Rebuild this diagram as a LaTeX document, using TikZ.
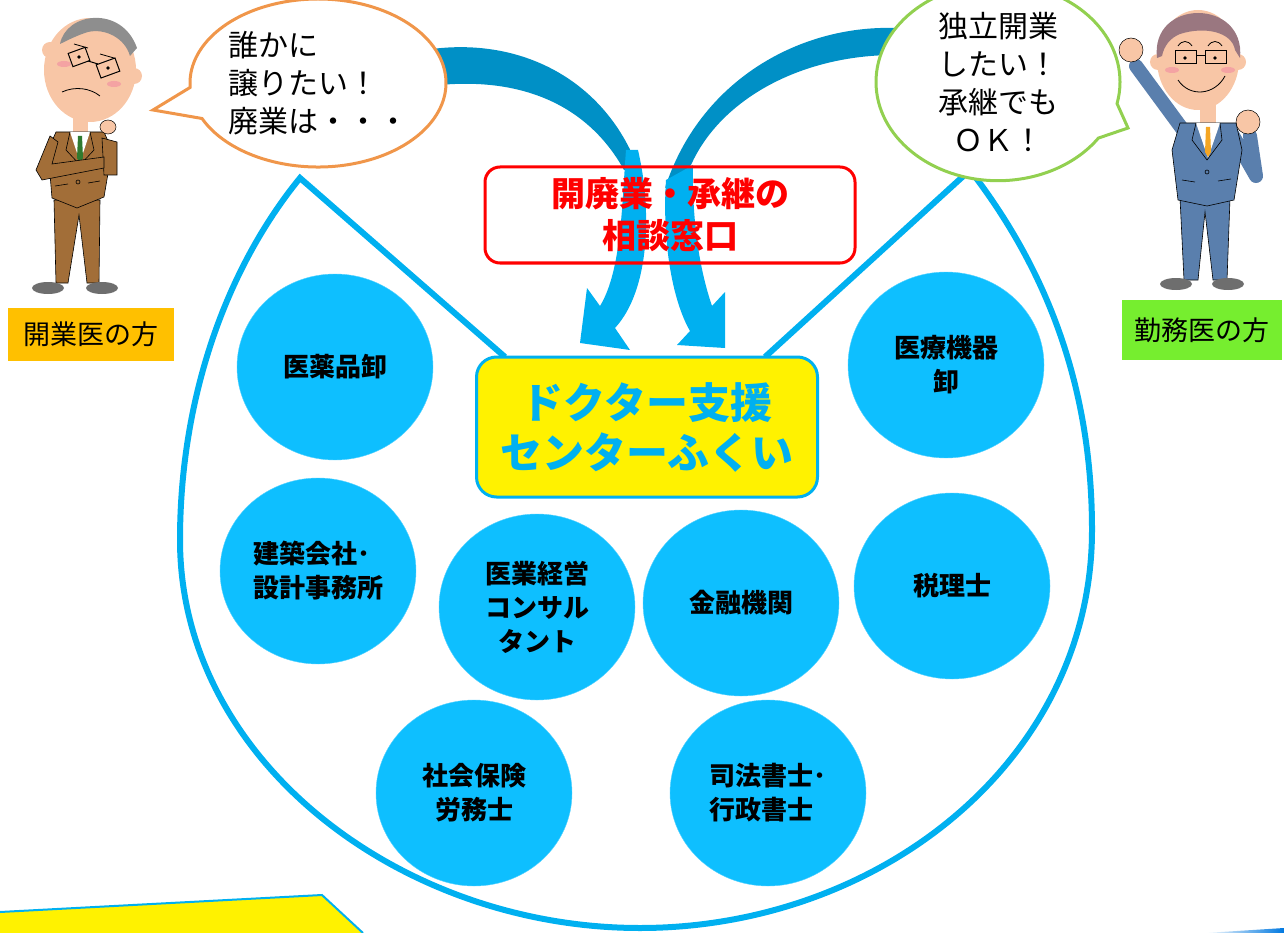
\documentclass[tikz,border=0pt]{standalone}
\usepackage{fontspec}
\setmainfont{Noto Sans CJK JP}
\usetikzlibrary{shapes.geometric}
\usetikzlibrary{shapes.callouts}
\usetikzlibrary{positioning}
\definecolor{sky}{HTML}{00B0F0}
\definecolor{darksky}{HTML}{0090C6}
\definecolor{ball}{HTML}{0EBFFF}
\definecolor{bubbleorange}{HTML}{F0964A}
\definecolor{bubblegreen}{HTML}{92D050}
\definecolor{taborange}{HTML}{FFC000}
\definecolor{tabgreen}{HTML}{76EE2F}
\definecolor{skin}{HTML}{F8C6A6}
\definecolor{blush}{HTML}{F4A3A3}
\definecolor{hairgrey}{HTML}{8E8E8E}
\definecolor{hairmauve}{HTML}{9A7780}
\definecolor{suitbrown}{HTML}{A26E38}
\definecolor{suitblue}{HTML}{5A7FAD}
\definecolor{tiegreen}{HTML}{2F7A2F}
\definecolor{tieorange}{HTML}{F5A623}
\definecolor{shoe}{HTML}{6E6E6E}
\definecolor{deepblue}{HTML}{0078E0}

\begin{document}
\begin{tikzpicture}[x=1pt,y=-1pt,
member/.style={
ellipse,
fill=ball,
draw=ball!70!white,
inner sep=0pt,
minimum width=196pt,
minimum height=186pt,
font=\fontsize{26}{34}\selectfont\bfseries},
bubble/.style={
ellipse callout,
fill=white,
line width=3pt,
inner sep=0pt,
callout pointer arc=22,
font=\fontsize{30}{38}\selectfont},
tab/.style={
inner sep=0pt,
font=\fontsize{27}{30}\selectfont},
cloth/.style={draw=black, line width=0.6pt},
sleeve/.style={line width=14pt, line cap=round, line join=round}
]
\useasboundingbox (0,0) rectangle (1284,933);

% outer frame
\coordinate (lpeak) at (300,178);
\coordinate (rpeak) at (970,170);
\coordinate (lfoot) at (505,357);
\coordinate (rfoot) at (765,357);
\draw[sky, line width=6pt, line join=miter] (lfoot) -- (lpeak)
  .. controls (225,270) and (180,400) .. (180,540)
  .. controls (180,760) and (400,928) .. (640,928)
  .. controls (880,928) and (1092,760) .. (1092,530)
  .. controls (1092,400) and (1055,280) .. (rpeak) -- (rfoot);

% twisted arrows
\fill[darksky] (425,50) .. controls (520,35) and (605,80) .. (638,168)
  -- (624,170) .. controls (592,112) and (530,74) .. (430,86) -- cycle;
\fill[sky] (626,150) .. controls (622,200) and (622,270) .. (600,306)
  -- (587,288) -- (580,343) -- (630,350) -- (615,328)
  .. controls (650,290) and (652,210) .. (638,150) -- cycle;
\fill[darksky] (895,28) .. controls (800,25) and (700,80) .. (665,188)
  -- (691,165) .. controls (720,100) and (800,55) .. (895,55) -- cycle;
\fill[sky] (666,180) .. controls (662,240) and (672,300) .. (690,331)
  -- (677,345) -- (725,348) -- (725,292) -- (712,306)
  .. controls (698,265) and (692,215) .. (693,165) -- cycle;

% counter and centre
\node[draw=red, line width=3pt, rounded corners=15pt, minimum width=370pt,
  minimum height=96pt, align=center, text=red,
  font=\fontsize{34}{42}\selectfont\bfseries] (desk) at (670,215)
  {開廃業・承継の\\相談窓口};
\node[draw=sky, fill=yellow, line width=3pt, rounded corners=20pt,
  minimum width=341pt, minimum height=140pt, align=center, text=sky,
  font=\fontsize{42}{50}\selectfont\bfseries] (ctr) at (647,427)
  {ドクター支援\\センターふくい};

% partners
\foreach \n/\x/\y/\al/\txt in {
  wholesale/335/367/center/{医薬品卸},
  devices/946/365/center/{医療機器\\卸},
  builder/318/571/left/{建築会社･\\設計事務所},
  consult/537/607/center/{医業経営\\コンサル\\タント},
  bank/741/603/center/{金融機関},
  tax/952/586/center/{税理士},
  labour/474/793/center/{社会保険\\労務士},
  scrivener/768/793/left/{司法書士･\\行政書士}}
  \node[member, align=\al] (\n) at (\x,\y) {\txt};

% speech bubbles
\node[bubble, draw=bubbleorange, minimum width=256pt, minimum height=168pt,
  callout absolute pointer={(153,110)}, align=left] (sayl) at (318,83)
  {誰かに\\譲りたい！\\廃業は・・・};
\node[bubble, draw=bubblegreen, minimum width=244pt, minimum height=170pt,
  callout absolute pointer={(1128,128)}, align=center] (sayr) at (998,82)
  {独立開業\\したい！\\承継でも\\ＯＫ！};

% owner, left
\fill[suitbrown, cloth] (54,200) -- (100,200) -- (99,283) -- (87,283)
  -- (79,215) -- (68,283) -- (56,283) -- cycle;
\fill[shoe] (48,288) ellipse [x radius=16, y radius=6];
\fill[shoe] (102,288) ellipse [x radius=16, y radius=6];
\fill[skin] (73,112) rectangle (88,135);
\fill[suitbrown, cloth] (56,132) -- (104,132) -- (112,150) -- (104,197)
  -- (77,208) -- (52,198) -- (48,150) -- cycle;
\fill[white] (70,132) -- (90,132) -- (80,162) -- cycle;
\fill[tiegreen] (78,136) -- (82,136) -- (83,158) -- (80,163) -- (77,158) -- cycle;
\draw[line width=0.6pt] (70,132) -- (66,150) -- (80,165) -- (94,150) -- (90,132);
\draw[line width=0.6pt] (78,182) circle (2);
\draw[line width=0.6pt] (55,186) -- (68,184) (88,183) -- (100,181);
\fill[suitbrown, cloth] (102,138) -- (117,142) -- (117,175) -- (104,175) -- cycle;
\fill[suitbrown, cloth] (50,136) -- (36,170) -- (42,180) -- (104,168)
  -- (104,157) -- (52,164) -- (58,142) -- cycle;
\fill[skin] (90,70) ellipse [x radius=46, y radius=52];
\fill[skin] (50,50) circle (8);
\fill[skin] (134,76) circle (8);
\fill[hairgrey] (60,44) .. controls (66,12) and (122,5) .. (137,48)
  -- (130,56) .. controls (125,38) and (105,28) .. (88,32)
  .. controls (78,35) and (68,40) .. (60,44) -- cycle;
\fill[blush] (64,64) ellipse [x radius=7, y radius=3];
\fill[blush] (114,84) ellipse [x radius=7, y radius=3];
\draw[line width=1pt, rotate around={20:(79,57)}] (70,50) rectangle (88,64);
\draw[line width=1pt, rotate around={20:(108,68)}] (98,61) rectangle (118,75);
\draw[line width=1pt] (88,61) -- (98,64);
\fill (79,57) circle (1.8);
\fill (108,68) circle (1.8);
\draw[line width=0.8pt] (62,92) .. controls (75,86) and (90,88) .. (100,96);
\draw[line width=0.8pt] (74,44) -- (88,48) (100,54) -- (114,58);
\fill[skin, draw=black, line width=0.5pt] (108,127) ellipse [x radius=8, y radius=7];

% employee, right
\fill[suitblue, cloth] (1180,198) -- (1230,198) -- (1227,280) -- (1213,280)
  -- (1205,212) -- (1198,280) -- (1184,280) -- cycle;
\fill[shoe] (1176,284) ellipse [x radius=16, y radius=6];
\fill[shoe] (1228,284) ellipse [x radius=16, y radius=6];
\draw[suitblue, sleeve] (1186,134) -- (1136,66);
\draw[suitblue, sleeve] (1232,134) -- (1256,176) -- (1250,136);
\fill[skin, draw=black, line width=0.5pt] (1131,50) circle (12);
\fill[skin, draw=black, line width=0.5pt] (1248,122) circle (12);
\fill[skin] (1200,100) rectangle (1216,125);
\fill[suitblue, cloth] (1180,123) -- (1236,123) -- (1242,150) -- (1234,200)
  -- (1207,206) -- (1178,200) -- (1172,150) -- cycle;
\fill[white] (1196,123) -- (1220,123) -- (1208,158) -- cycle;
\fill[tieorange] (1206,127) -- (1210,127) -- (1211,152) -- (1208,157)
  -- (1205,152) -- cycle;
\draw[line width=0.6pt] (1196,123) -- (1192,140) -- (1207,160) -- (1222,140) -- (1220,123);
\draw[line width=0.6pt] (1207,172) circle (2);
\draw[line width=0.6pt] (1182,180) -- (1195,182) (1218,181) -- (1231,179);
\fill[skin] (1198,60) ellipse [x radius=41, y radius=50];
\fill[skin] (1158,62) circle (8);
\fill[skin] (1238,62) circle (8);
\fill[hairmauve] (1157,58) .. controls (1150,-2) and (1246,-2) .. (1240,58)
  -- (1235,50) .. controls (1232,32) and (1205,26) .. (1180,34)
  .. controls (1170,38) and (1164,46) .. (1162,56) -- cycle;
\fill[blush] (1172,70) ellipse [x radius=7, y radius=3];
\fill[blush] (1228,70) ellipse [x radius=7, y radius=3];
\draw[line width=1pt] (1175,51) rectangle (1196,64);
\draw[line width=1pt] (1205,51) rectangle (1226,64);
\draw[line width=1pt] (1196,56) -- (1205,56);
\fill (1185,58) circle (1.8);
\fill (1215,58) circle (1.8);
\draw[line width=0.8pt] (1178,46) .. controls (1182,40) and (1188,40) .. (1192,46);
\draw[line width=0.8pt] (1208,46) .. controls (1212,40) and (1218,40) .. (1222,46);
\draw[line width=0.8pt] (1178,80) .. controls (1190,98) and (1215,95) .. (1225,76);

% who is who
\node[tab, fill=taborange, minimum width=166pt, minimum height=53pt] (owner) at (91,334) {開業医の方};
\node[tab, fill=tabgreen, minimum width=160pt, minimum height=60pt] (employee) at (1202,330) {勤務医の方};

% page edges
\fill[yellow] (0,912) -- (322,895) -- (363,933) -- (0,933) -- cycle;
\draw[sky, line width=2pt] (0,912) -- (322,895) -- (363,933);
\shade[left color=white, right color=deepblue] (1205,933) -- (1284,928) -- (1284,933) -- cycle;
\end{tikzpicture}
\end{document}
